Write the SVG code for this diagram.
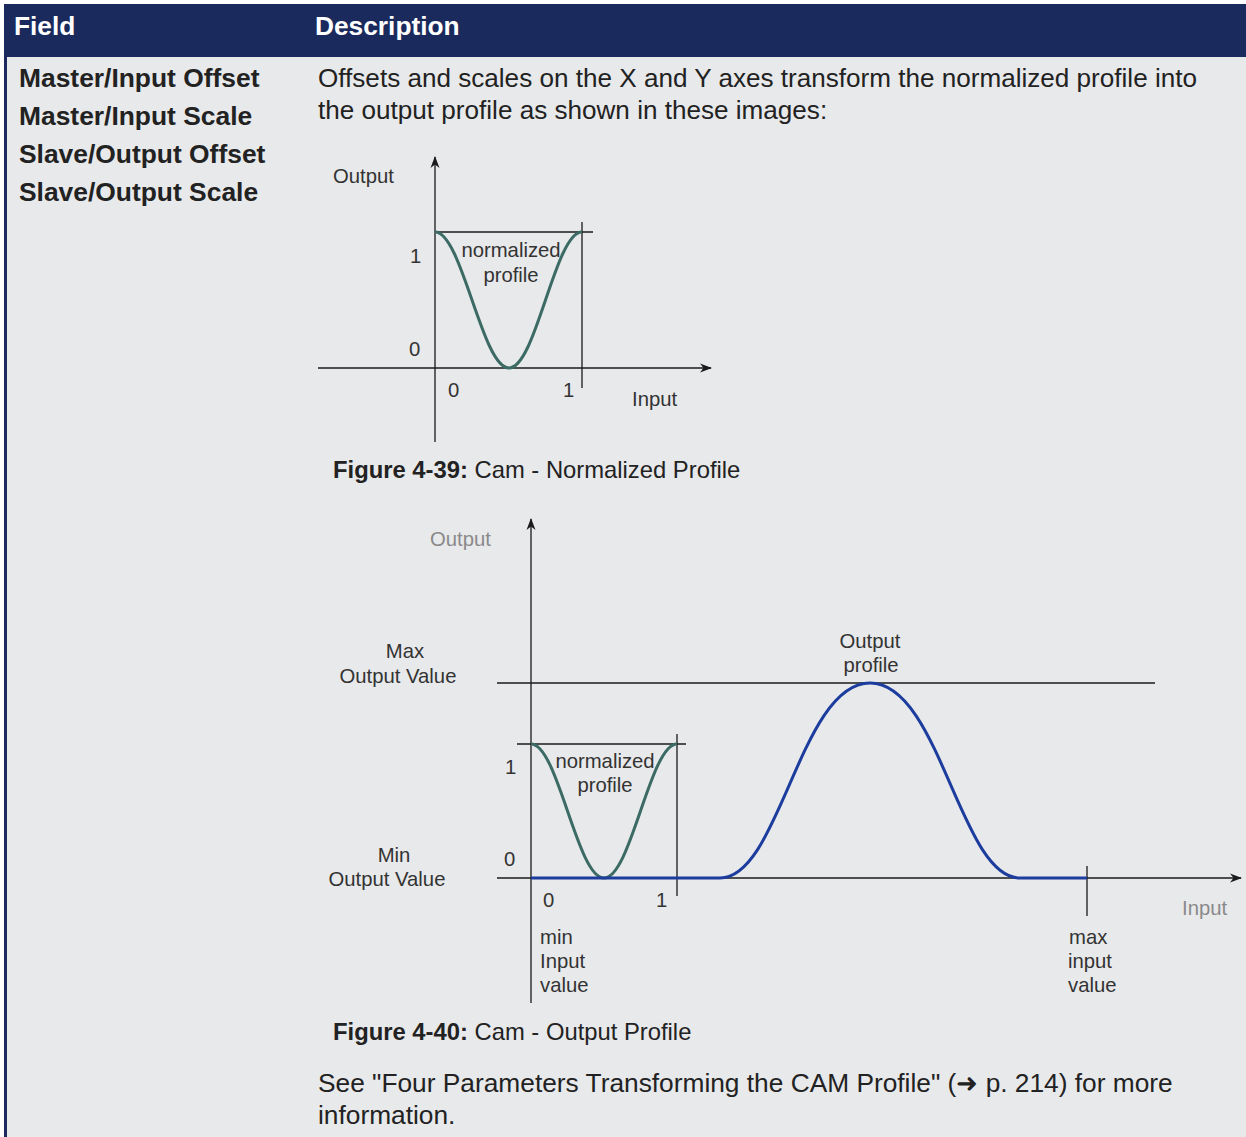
<svg xmlns="http://www.w3.org/2000/svg" width="1246" height="1137" viewBox="0 0 1246 1137">
<style>
.hdr{font-family:"Liberation Sans",Arial,sans-serif;font-weight:bold;font-size:26.3px;fill:#ffffff}
.fld{font-family:"Liberation Sans",Arial,sans-serif;font-weight:bold;font-size:26.4px;fill:#222222}
.desc{font-family:"Liberation Sans",Arial,sans-serif;font-size:26.1px;fill:#222222}
.ftr{font-family:"Liberation Sans",Arial,sans-serif;font-size:26.3px;fill:#222222}
.cap{font-family:"Liberation Sans",Arial,sans-serif;font-size:23.8px;fill:#222222}
.lbl{font-family:"Liberation Sans",Arial,sans-serif;font-size:20.3px;fill:#333333}
.gry{font-family:"Liberation Sans",Arial,sans-serif;font-size:20.3px;fill:#8a8a8a}
.ax{stroke:#1a1a1a;stroke-width:1.3;fill:none}
.teal{stroke:#3b6b64;stroke-width:3;fill:none}
.blue{stroke:#1c3d9e;stroke-width:3;fill:none}
</style>
<defs>
<marker id="arr" viewBox="0 0 12 12" refX="11" refY="6" markerWidth="12" markerHeight="12" markerUnits="userSpaceOnUse" orient="auto">
<path d="M0,1.5 L12,6 L0,10.5 L3.5,6 Z" fill="#1a1a1a"/>
</marker>
</defs>
<rect x="0" y="0" width="1246" height="1137" fill="#ffffff"/>
<rect x="4" y="4" width="1242" height="1133" fill="#e8e9eb"/>
<rect x="4" y="4" width="1242" height="53" fill="#1b2a5c"/>
<rect x="4" y="4" width="3" height="1133" fill="#1b2a5c"/>
<g id="header">
<text class="hdr" x="14" y="35">Field</text>
<text class="hdr" x="315" y="35">Description</text>
</g>
<g id="fields">
<text class="fld" x="19" y="87">Master/Input Offset</text>
<text class="fld" x="19" y="125">Master/Input Scale</text>
<text class="fld" x="19" y="163">Slave/Output Offset</text>
<text class="fld" x="19" y="201">Slave/Output Scale</text>
</g>
<g id="description">
<text class="desc" x="318" y="87">Offsets and scales on the X and Y axes transform the normalized profile into</text>
<text class="desc" x="318" y="119">the output profile as shown in these images:</text>
</g>
<g id="figure1">
<g id="fig1-axes">
<line class="ax" x1="435" y1="442" x2="435" y2="157" marker-end="url(#arr)"/>
<line class="ax" x1="318" y1="368" x2="711" y2="368" marker-end="url(#arr)"/>
<line class="ax" x1="435" y1="232" x2="593" y2="232"/>
<line class="ax" x1="582" y1="222" x2="582" y2="388"/>
</g>
<path class="teal" d="M435,232 C462,232 482,368 509,368 C536,368 555,232 582,232"/>
<text class="lbl" x="333" y="183">Output</text>
<text class="lbl" x="410" y="263">1</text>
<text class="lbl" x="409" y="356">0</text>
<text class="lbl" x="448" y="397">0</text>
<text class="lbl" x="563" y="397">1</text>
<text class="lbl" x="632" y="406">Input</text>
<text class="lbl" x="511" y="257" text-anchor="middle">normalized</text>
<text class="lbl" x="511" y="282" text-anchor="middle">profile</text>
<text class="cap" x="333" y="478"><tspan font-weight="bold">Figure 4-39:</tspan> Cam - Normalized Profile</text>
</g>
<g id="figure2">
<g id="fig2-axes">
<line class="ax" x1="531" y1="1003" x2="531" y2="519" marker-end="url(#arr)"/>
<line class="ax" x1="497" y1="878" x2="1241" y2="878" marker-end="url(#arr)"/>
<line class="ax" x1="497" y1="683" x2="1155" y2="683"/>
<line class="ax" x1="517" y1="744" x2="686" y2="744"/>
<line class="ax" x1="677" y1="734" x2="677" y2="896"/>
<line class="ax" x1="1087" y1="866" x2="1087" y2="916"/>
</g>
<path class="teal" d="M531,744 C558,744 577,878 604,878 C631,878 650,744 677,744"/>
<path class="blue" d="M531,878 L720,878 C780,878 800,683 870,683 C940,683 960,878 1020,878 L1087,878"/>
<text class="gry" x="430" y="546">Output</text>
<text class="lbl" x="405" y="658" text-anchor="middle">Max</text>
<text class="lbl" x="398" y="683" text-anchor="middle">Output Value</text>
<text class="lbl" x="870" y="648" text-anchor="middle">Output</text>
<text class="lbl" x="871" y="672" text-anchor="middle">profile</text>
<text class="lbl" x="505" y="774">1</text>
<text class="lbl" x="504" y="866">0</text>
<text class="lbl" x="605" y="768" text-anchor="middle">normalized</text>
<text class="lbl" x="605" y="792" text-anchor="middle">profile</text>
<text class="lbl" x="394" y="862" text-anchor="middle">Min</text>
<text class="lbl" x="387" y="886" text-anchor="middle">Output Value</text>
<text class="lbl" x="543" y="907">0</text>
<text class="lbl" x="656" y="907">1</text>
<text class="gry" x="1182" y="915">Input</text>
<text class="lbl" x="540" y="944">min</text>
<text class="lbl" x="540" y="968">Input</text>
<text class="lbl" x="540" y="992">value</text>
<text class="lbl" x="1069" y="944">max</text>
<text class="lbl" x="1068" y="968">input</text>
<text class="lbl" x="1068" y="992">value</text>
<text class="cap" x="333" y="1040"><tspan font-weight="bold">Figure 4-40:</tspan> Cam - Output Profile</text>
</g>
<g id="footer">
<text class="ftr" x="318" y="1092">See "Four Parameters Transforming the CAM Profile" (➜ p. 214) for more</text>
<text class="ftr" x="318" y="1124">information.</text>
</g>
</svg>
